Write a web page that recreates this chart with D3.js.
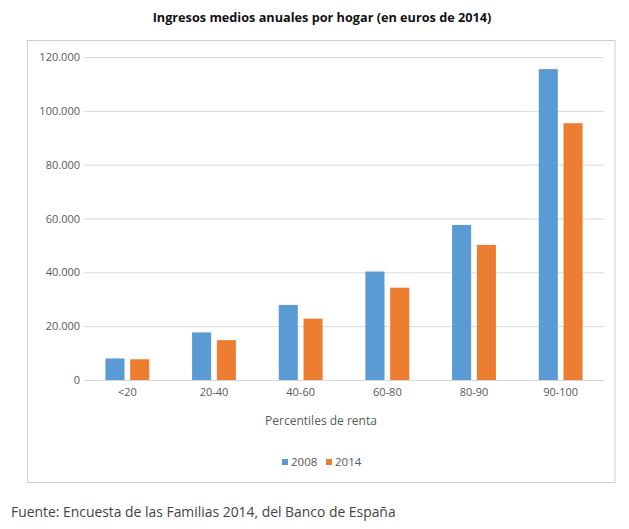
<!DOCTYPE html>
<html><head><meta charset="utf-8">
<script src="https://cdn.jsdelivr.net/npm/d3@7"></script>
<style>body{margin:0;background:#fff;}</style>
</head><body>
<svg id="c" width="629" height="529"></svg>
<script>
const categories = ["<20","20-40","40-60","60-80","80-90","90-100"];
const seriesNames = ["2008","2014"];
const values2008 = [8000,17700,27900,40300,57600,115500];
const values2014 = [7700,14800,22800,34300,50200,95400];
const yTicks = [0,20000,40000,60000,80000,100000,120000];
const colors = ["#5B9BD5","#ED7D31"];

const svg = d3.select("#c");
const font = "'Open Sans', sans-serif";
const M = {left:84, right:604, top:57, bottom:380};

// chart frame
svg.append("rect").attr("x",27.5).attr("y",40.5).attr("width",587.5).attr("height",442)
  .attr("fill","#fff").attr("stroke","#cfcfcf");

svg.append("text").attr("x",322).attr("y",22).attr("text-anchor","middle")
  .attr("font-family",font).attr("font-weight","bold").attr("font-size",12.7).attr("fill","#111")
  .text("Ingresos medios anuales por hogar (en euros de 2014)");

const x = d3.scaleBand().domain(categories).range([M.left,M.right]);
const xs = d3.scaleBand().domain(seriesNames).range([0,x.bandwidth()]).paddingInner(0.23).paddingOuter(0.865);
const y = d3.scaleLinear().domain([0,120000]).range([M.bottom,M.top]);

const fmt = v => d3.format(",")(v).replace(/,/g,".");
const yAxis = svg.append("g").attr("transform",`translate(${M.left},0)`)
  .call(d3.axisLeft(y).tickValues(yTicks).tickSize(-(M.right-M.left)).tickFormat(fmt).tickPadding(4));
yAxis.select(".domain").remove();
yAxis.selectAll(".tick line").attr("stroke","#d9d9d9");
yAxis.selectAll(".tick text").attr("font-family",font).attr("font-size",11).attr("fill","#595959");

const data = categories.map((c,i)=>({c, vals:[values2008[i],values2014[i]]}));
const g = svg.append("g");
data.forEach(d=>{
  d.vals.forEach((v,j)=>{
    g.append("rect").attr("x",x(d.c)+xs(seriesNames[j])).attr("width",xs.bandwidth())
      .attr("y",y(v)).attr("height",y(0)-y(v)).attr("fill",colors[j]);
  });
});

const xAxis = svg.append("g").attr("transform",`translate(0,${M.bottom})`)
  .call(d3.axisBottom(x).tickSize(0).tickPadding(8));
xAxis.select(".domain").attr("stroke","#d9d9d9");
xAxis.selectAll(".tick text").attr("font-family",font).attr("font-size",11).attr("fill","#595959");

svg.append("text").attr("x",321).attr("y",425).attr("text-anchor","middle")
  .attr("font-family",font).attr("font-size",12).attr("fill","#595959").text("Percentiles de renta");

// legend
const leg = svg.append("g");
const lx = [282, 326];
seriesNames.forEach((s,j)=>{
  leg.append("rect").attr("x",lx[j]).attr("y",459).attr("width",6).attr("height",6).attr("fill",colors[j]);
  leg.append("text").attr("x",lx[j]+9).attr("y",466).attr("font-family",font).attr("font-size",11.5)
    .attr("fill","#595959").text(s);
});

svg.append("text").attr("x",11).attr("y",517).attr("font-family",font).attr("font-size",13.9)
  .attr("fill","#444").text("Fuente: Encuesta de las Familias 2014, del Banco de España");
</script>
</body></html>
